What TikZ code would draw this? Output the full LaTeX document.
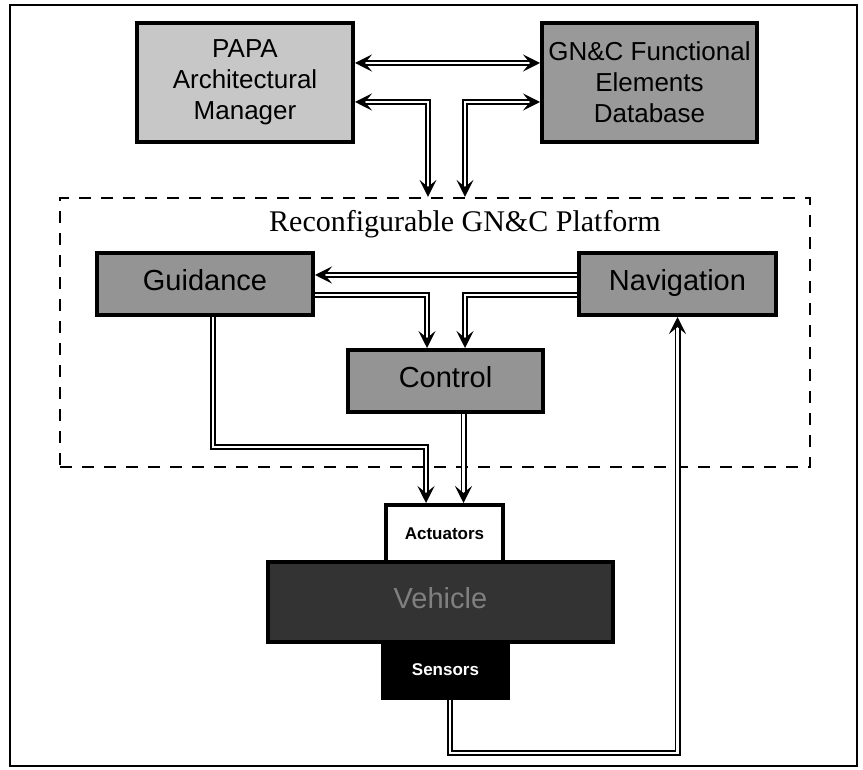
\documentclass[tikz,border=0pt]{standalone}
\usepackage{fontspec}
\setmainfont{Liberation Serif}
\setsansfont{Liberation Sans}
\usetikzlibrary{positioning}
\usetikzlibrary{arrows.meta}
\tikzset{
  block/.style={draw=black,line width=2pt,inner sep=0,align=center,text height=1.38ex,text depth=0pt,font=\sffamily\fontsize{14.5}{16}\selectfont},
  bigblock/.style={draw=black,line width=2pt,inner sep=0,align=center,font=\sffamily\fontsize{13}{15.5}\selectfont},
  smallblock/.style={draw=black,line width=2pt,inner sep=0,font=\sffamily\bfseries\fontsize{8.5}{10}\selectfont},
  platform/.style={draw=black,line width=1.1pt,dash pattern=on 6pt off 5pt},
  link/.style={double=white,double distance=1.4pt,line width=0.8pt,>={Stealth[length=8.5pt,width=8.5pt,inset=3.5pt]}}
}
\begin{document}
\begin{tikzpicture}[x=0.5pt,y=-0.5pt]
  \useasboundingbox (0,0) rectangle (863,770);
  \draw[line width=0.7pt] (10,5) rectangle (857,766);
  % top level
  \node[bigblock,fill=black!22,minimum width=108pt,minimum height=59.5pt] (papa) at (245,82.5) {PAPA\\Architectural\\Manager};
  \node[bigblock,fill=black!40,minimum width=107.5pt,minimum height=59.5pt] (fed) at (649.5,82.5) {GN\&C Functional\\Elements\\Database};
  % platform
  \node[platform,minimum width=375pt,minimum height=134.5pt] (gnc) at (435,332.5) {};
  \node[font=\fontsize{15}{18}\selectfont] (title) at (465,224) {Reconfigurable GN\&C Platform};
  \node[block,fill=black!42,minimum width=108pt,minimum height=31pt] (guid) at (205,284) {Guidance};
  \node[block,fill=black!42,minimum width=98.5pt,minimum height=31pt] (nav) at (677.5,284) {Navigation};
  \node[block,fill=black!42,minimum width=97.5pt,minimum height=31pt] (ctrl) at (445.5,381) {Control};
  % vehicle
  \node[block,fill=black!80,text=black!50,minimum width=172.5pt,minimum height=40pt] (veh) at (440.5,602) {Vehicle};
  \node[smallblock,fill=white,minimum width=58.5pt,minimum height=28.5pt] (act) at (444.5,533.5) {Actuators};
  \node[smallblock,fill=black,text=white,minimum width=62.5pt,minimum height=28pt] (sens) at (445.5,670) {Sensors};

  \draw[link,<->] ([yshift=9.75pt]papa.east) -- ([yshift=9.75pt]fed.west);
  \draw[link,<->] ([yshift=-9.75pt]papa.east) -| (428,0 |- gnc.north);
  \draw[link,<->] ([yshift=-9.75pt]fed.west) -| (465,0 |- gnc.north);

  \draw[link,->] ([yshift=4.5pt]nav.west) -- ([yshift=4.5pt]guid.east);
  \draw[link,->] ([yshift=-5.5pt]guid.east) -| ([xshift=-9.25pt]ctrl.north);
  \draw[link,->] ([yshift=-5.5pt]nav.west) -| ([xshift=9.75pt]ctrl.north);
  \draw[link,->] ([xshift=4pt]guid.south) |- (426,447) -- ([xshift=-9.25pt]act.north);
  \draw[link,->] ([xshift=9.5pt]act.north |- ctrl.south) -- ([xshift=9.5pt]act.north);
  \draw[link,->] ([xshift=2.25pt]sens.south) |- (nav.south |- 0,753) -- (nav.south);
\end{tikzpicture}
\end{document}
